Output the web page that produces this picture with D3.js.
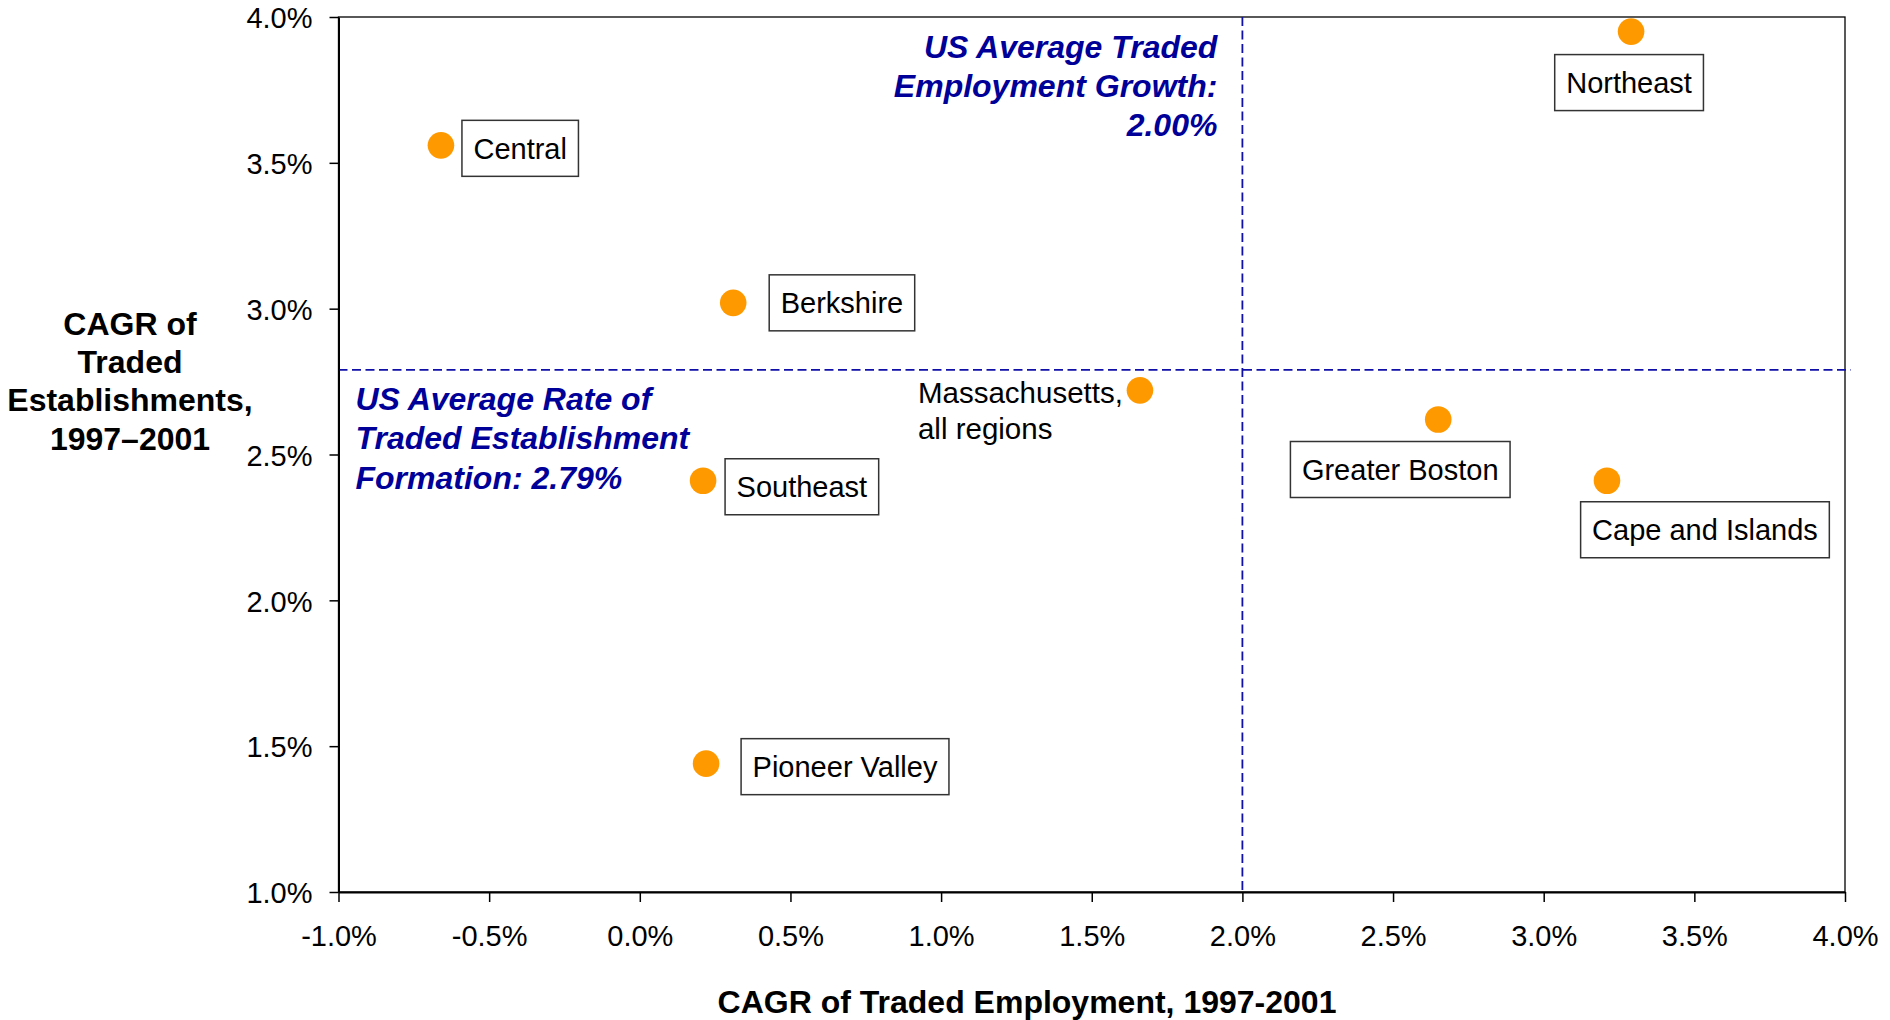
<!DOCTYPE html>
<html>
<head>
<meta charset="utf-8">
<script src="https://cdn.jsdelivr.net/npm/d3@7"></script>
<style>
    body { margin: 0; background: #fff; }
    svg text { font-family: "Liberation Sans", Arial, sans-serif; }
</style>
</head>
<body>
<div id="chart"></div>
<script>
// data (%)
const regions = ["Central", "Berkshire", "Massachusetts, all regions", "Southeast",
    "Pioneer Valley", "Northeast", "Greater Boston", "Cape and Islands"];
const employmentGrowth = [-0.66, 0.31, 1.66, 0.21, 0.22, 3.29, 2.65, 3.21];
const establishmentGrowth = [3.56, 3.02, 2.72, 2.41, 1.44, 3.95, 2.62, 2.41];

const xTicks = [-1.0, -0.5, 0.0, 0.5, 1.0, 1.5, 2.0, 2.5, 3.0, 3.5, 4.0];
const yTicks = [1.0, 1.5, 2.0, 2.5, 3.0, 3.5, 4.0];

const usEmploymentAvg = 2.00;
const usEstablishmentAvg = 2.79;

// label placement, pixels relative to the dot (box centre y; x = box left or box centre)
const labelPlace = {
    "Central":          {anchor: "start",  dx: 21,  dy: 3},
    "Berkshire":        {anchor: "start",  dx: 36,  dy: 0},
    "Southeast":        {anchor: "start",  dx: 22,  dy: 6},
    "Pioneer Valley":   {anchor: "start",  dx: 35,  dy: 3},
    "Northeast":        {anchor: "middle", dx: -2,  dy: 51},
    "Greater Boston":   {anchor: "middle", dx: -38, dy: 50},
    "Cape and Islands": {anchor: "middle", dx: 98,  dy: 49}
};

const data = regions.map(function(d, i){
    return {name: d, x: employmentGrowth[i], y: establishmentGrowth[i]};
});

const margin = {top: 17, right: 45, bottom: 128, left: 338.5},
    width = 1890 - margin.left - margin.right,
    height = 1020 - margin.top - margin.bottom;

const svg = d3.select("#chart")
    .append("svg")
    .attr("width", 1890)
    .attr("height", 1020)
    .append("g")
    .attr("transform", "translate(" + margin.left + "," + margin.top + ")");

const xScale = d3.scaleLinear().domain([-1, 4]).range([0, width]);
const yScale = d3.scaleLinear().domain([1, 4]).range([height, 0]);

const navy = "#000099";
const orange = "#FF9900";

/* plot frame */
svg.append("rect")
    .attr("width", width)
    .attr("height", height)
    .attr("fill", "none")
    .attr("stroke", "#000")
    .attr("stroke-width", 1.3);

/* US average lines */
svg.append("line")
    .attr("x1", xScale(usEmploymentAvg))
    .attr("x2", xScale(usEmploymentAvg))
    .attr("y1", 0)
    .attr("y2", height)
    .attr("stroke", "#1010a8")
    .attr("stroke-width", 1.8)
    .attr("stroke-dasharray", "9,4.5");

svg.append("line")
    .attr("x1", 0)
    .attr("x2", width + 6)
    .attr("y1", yScale(usEstablishmentAvg))
    .attr("y2", yScale(usEstablishmentAvg))
    .attr("stroke", "#1010a8")
    .attr("stroke-width", 1.8)
    .attr("stroke-dasharray", "9,4.5");

/* annotations */
const annoEmp = svg.append("text")
    .attr("text-anchor", "end")
    .attr("fill", navy)
    .style("font-size", "32px")
    .style("font-weight", "bold")
    .style("font-style", "italic");
["US Average Traded", "Employment Growth:", usEmploymentAvg.toFixed(2) + "%"].forEach(function(t, i){
    annoEmp.append("tspan")
        .attr("x", xScale(usEmploymentAvg) - 25)
        .attr("y", 41 + i * 39)
        .text(t);
});

const annoEst = svg.append("text")
    .attr("text-anchor", "start")
    .attr("fill", navy)
    .style("font-size", "32px")
    .style("font-weight", "bold")
    .style("font-style", "italic");
["US Average Rate of", "Traded Establishment", "Formation: " + usEstablishmentAvg.toFixed(2) + "%"].forEach(function(t, i){
    annoEst.append("tspan")
        .attr("x", 17)
        .attr("y", yScale(usEstablishmentAvg) + 40 + i * 39.4)
        .text(t);
});

/* boxed labels */
data.forEach(function(d){
    const cx = xScale(d.x), cy = yScale(d.y);

    if (!labelPlace[d.name]) {
        // Massachusetts: plain two-line text to the left of the dot
        const t = svg.append("text")
            .attr("fill", "#000")
            .style("font-size", "29.5px");
        ["Massachusetts,", "all regions"].forEach(function(s, i){
            t.append("tspan")
                .attr("x", cx - 222)
                .attr("y", cy + 13 + i * 35.7)
                .text(s);
        });
        return;
    }

    const p = labelPlace[d.name];
    const g = svg.append("g").attr("class", "label-box");
    const rect = g.append("rect")
        .attr("fill", "#fff")
        .attr("stroke", "#333")
        .attr("stroke-width", 1.5);
    const txt = g.append("text")
        .attr("fill", "#000")
        .style("font-size", "29px")
        .text(d.name);

    const tw = txt.node().getComputedTextLength();
    const bw = tw + 23, bh = 56;
    const left = p.anchor === "start" ? cx + p.dx : cx + p.dx - bw / 2;
    const top = cy + p.dy - bh / 2;

    rect.attr("x", left).attr("y", top).attr("width", bw).attr("height", bh);
    txt.attr("x", left + 11.5).attr("y", top + 38.5);
});

/* dots */
svg.selectAll(".dot")
    .data(data)
    .enter().append("circle")
    .attr("class", "dot")
    .attr("cx", function(d){ return xScale(d.x); })
    .attr("cy", function(d){ return yScale(d.y); })
    .attr("r", 13.3)
    .attr("fill", orange);

/* axes */
const xAxis = svg.append("g")
    .attr("class", "x-axis")
    .attr("transform", "translate(0," + height + ")")
    .call(d3.axisBottom(xScale)
        .tickValues(xTicks)
        .tickSizeInner(10)
        .tickSizeOuter(0)
        .tickPadding(23)
        .tickFormat(function(d){ return d.toFixed(1) + "%"; }));

const yAxis = svg.append("g")
    .attr("class", "y-axis")
    .call(d3.axisLeft(yScale)
        .tickValues(yTicks)
        .tickSizeInner(9)
        .tickSizeOuter(0)
        .tickPadding(17)
        .tickFormat(function(d){ return d.toFixed(1) + "%"; }));

[xAxis, yAxis].forEach(function(a){
    a.select(".domain").attr("stroke", "#000").attr("stroke-width", 2);
    a.selectAll(".tick line").attr("stroke", "#000").attr("stroke-width", 1.5);
    a.selectAll(".tick text")
        .attr("fill", "#000")
        .style("font-size", "29px")
        .style("font-family", "'Liberation Sans', Arial, sans-serif");
});
yAxis.selectAll(".tick text").attr("dy", "0.37em");

/* axis titles */
svg.append("text")
    .attr("x", 1027 - margin.left)
    .attr("y", 1013 - margin.top)
    .attr("text-anchor", "middle")
    .style("font-size", "32px")
    .style("font-weight", "bold")
    .text("CAGR of Traded Employment, 1997-2001");

const yTitle = svg.append("text")
    .attr("text-anchor", "middle")
    .style("font-size", "32px")
    .style("font-weight", "bold");
["CAGR of", "Traded", "Establishments,", "1997\u20132001"].forEach(function(t, i){
    yTitle.append("tspan")
        .attr("x", 130 - margin.left)
        .attr("y", 335 - margin.top + i * 38.2)
        .text(t);
});
</script>
</body>
</html>
